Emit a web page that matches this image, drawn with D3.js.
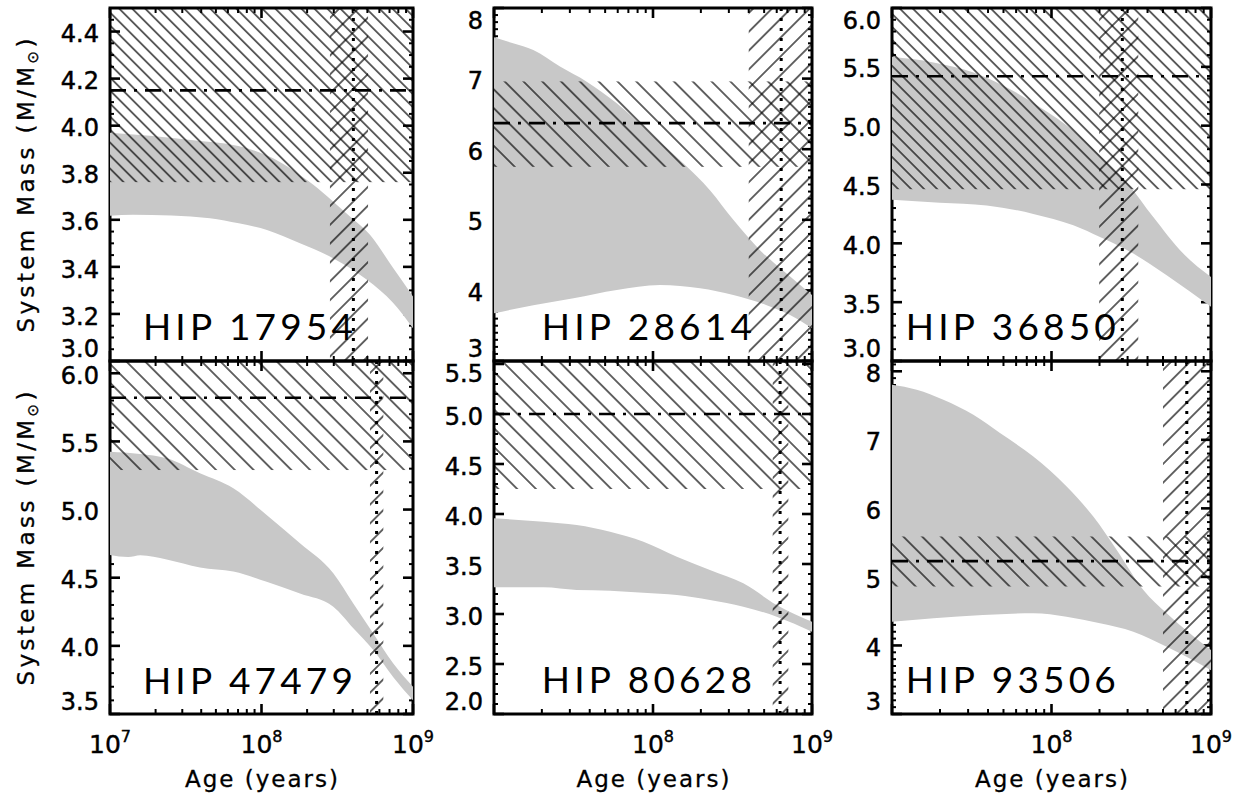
<!DOCTYPE html>
<html>
<head>
<meta charset="utf-8">
<script src="https://cdn.jsdelivr.net/npm/d3@7"></script>
<style>
    body { margin: 0; background: #fff; }
    text { font-family: "DejaVu Sans", sans-serif; fill: #000; }
</style>
</head>
<body>
<div id="chart"></div>
<script>

// ---- data ----
const stars = ["HIP  17954", "HIP  28614", "HIP  36850", "HIP  47479", "HIP  80628", "HIP  93506"];

// y-axis ranges, major tick step and minor intervals
const massRange = [[3.0, 4.5], [3, 8], [3, 6], [3.5, 6.09], [2.0, 5.53], [3, 8.15]];
const massStep = [0.2, 1, 0.5, 0.5, 0.5, 1];
const massMinor = [4, 10, 5, 5, 5, 10];
const massFormat = [".1f", "d", ".1f", ".1f", ".1f", "d"];

// x axis
const ageRange = [1e7, 1e9];
const ageLabels = [[7, 8, 9], [8, 9], [8, 9]];   // exponents labelled, per column

// hatched mass exclusion (\\\) and age exclusion (///)
const massBand = [[3.76, 4.5], [5.75, 6.96], [4.46, 6.0], [5.29, 6.09], [4.25, 5.53], [4.86, 5.59]];
const ageBand = [[2.83e8, 5.05e8], [4.0e8, 1e9], [1.99e8, 3.5e8], [5.2e8, 6.37e8], [5.66e8, 7.1e8], [5.0e8, 1e9]];
// dash-dot mass, dotted age
const massLine = [4.15, 6.37, 5.42, 5.82, 5.0, 5.23];
const ageLine = [4.04e8, 6.4e8, 2.78e8, 5.75e8, 6.3e8, 7.05e8];

// star label position (age, mass)
const labelPos = [[1.65e7, 3.09], [2.0e7, 3.3], [1.22e7, 3.18], [1.65e7, 3.65], [2.0e7, 2.21], [1.22e7, 3.31]];

// grey band edges: [log10 age, mass]
const bandUpper = [
    [[7.0,3.97],[7.264,3.957],[7.594,3.935],[7.812,3.918],[7.95,3.895],[8.08,3.86],[8.208,3.81],[8.34,3.75],[8.472,3.678],[8.584,3.614],[8.716,3.536],[8.868,3.396],[9.0,3.274]],
    [[7.0,7.585],[7.12,7.5],[7.247,7.405],[7.415,7.17],[7.583,6.956],[7.772,6.65],[7.98,6.225],[8.19,5.80],[8.358,5.42],[8.505,5.0],[8.673,4.57],[8.84,4.24],[9.0,3.935]],
    [[7.0,5.585],[7.26,5.537],[7.51,5.452],[7.72,5.325],[7.93,5.155],[8.137,4.958],[8.304,4.746],[8.471,4.52],[8.638,4.223],[8.826,3.913],[9.0,3.714]],
    [[7.0,5.424],[7.198,5.408],[7.374,5.376],[7.594,5.266],[7.814,5.156],[8.034,4.96],[8.254,4.752],[8.474,4.532],[8.606,4.31],[8.738,4.09],[8.87,3.87],[9.0,3.70]],
    [[7.0,3.957],[7.31,3.923],[7.52,3.89],[7.73,3.823],[7.94,3.723],[8.15,3.573],[8.358,3.44],[8.568,3.307],[8.778,3.09],[9.0,2.923]],
    [[7.0,7.803],[7.155,7.73],[7.322,7.584],[7.51,7.365],[7.677,7.098],[7.886,6.756],[8.095,6.318],[8.262,5.88],[8.409,5.394],[8.576,4.81],[8.722,4.47],[9.0,3.934]]
];
const bandLower = [
    [[7.0,3.617],[7.152,3.621],[7.66,3.607],[7.85,3.585],[8.036,3.557],[8.254,3.50],[8.472,3.437],[8.696,3.345],[8.868,3.247],[9.0,3.139]],
    [[7.0,3.675],[7.247,3.79],[7.5,3.888],[7.772,4.006],[8.044,4.076],[8.296,4.03],[8.505,3.935],[8.715,3.79],[8.862,3.65],[9.0,3.463]],
    [[7.0,4.37],[7.30,4.345],[7.594,4.322],[7.886,4.25],[8.137,4.153],[8.304,4.053],[8.513,3.913],[8.722,3.729],[9.0,3.46]],
    [[7.0,4.667],[7.12,4.652],[7.2,4.665],[7.374,4.634],[7.594,4.575],[7.814,4.545],[8.034,4.47],[8.254,4.384],[8.474,4.287],[8.606,4.13],[8.738,3.97],[8.87,3.77],[9.0,3.60]],
    [[7.0,3.267],[7.31,3.267],[7.52,3.24],[7.73,3.233],[7.94,3.213],[8.15,3.19],[8.358,3.14],[8.568,3.073],[8.778,2.973],[9.0,2.823]],
    [[7.0,4.347],[7.26,4.396],[7.57,4.445],[7.886,4.47],[8.094,4.42],[8.304,4.323],[8.513,4.2],[8.722,3.982],[9.0,3.64]]
];

// ---- layout ----
const W = 1234, H = 798;
const cols = [[110, 413], [494, 812], [892, 1211]];
const rows = [[8, 361], [361, 714]];
// hatch line spacing (perpendicular, px) for the mass band of each panel; age bands use the wide one
const massHatch = [9.2, 13.3, 9.2, 13.3, 13.3, 13.3];
const ageHatch = 13.3;

const svg = d3.select("#chart").append("svg")
    .attr("width", W)
    .attr("height", H);

const defs = svg.append("defs");

function hatch(id, ang, gap) {
    defs.append("pattern")
        .attr("id", id)
        .attr("patternUnits", "userSpaceOnUse")
        .attr("width", gap)
        .attr("height", gap)
        .attr("patternTransform", "rotate(" + ang + ")")
        .append("line")
        .attr("x1", gap / 2).attr("x2", gap / 2)
        .attr("y1", -1).attr("y2", gap + 1)
        .attr("stroke", "#000")
        .attr("stroke-width", 1.2);
    return "url(#" + id + ")";
}

class MassPanel {

    constructor(i) {
        this.i = i;
        this.col = i % 3;
        this.row = Math.floor(i / 3);
    }

    initVis() {
        let vis = this;
        let i = vis.i;
        let [x0, x1] = cols[vis.col];
        let [y0, y1] = rows[vis.row];
        vis.x = d3.scaleLog().domain(ageRange).range([x0, x1]);
        vis.y = d3.scaleLinear().domain(massRange[i]).range([y1, y0]);

        vis.g = svg.append("g");

        defs.append("clipPath").attr("id", "clip" + i)
            .append("rect")
            .attr("x", x0).attr("y", y0)
            .attr("width", x1 - x0).attr("height", y1 - y0);

        // frame + ticks first, the grey band paints over the inner half of the frame
        vis.drawAxes(x0, x1, y0, y1);

        let plot = vis.g.append("g").attr("clip-path", "url(#clip" + i + ")");

        // grey band: upper edge left->right, lower edge right->left
        let line = d3.line()
            .x(d => vis.x(Math.pow(10, d[0])))
            .y(d => vis.y(d[1]))
            .curve(d3.curveMonotoneX);
        plot.append("path")
            .attr("d", line(bandUpper[i]) + "L" + line(bandLower[i].slice().reverse()).slice(1) + "Z")
            .attr("fill", "#c8c8c8");

        // hatched mass band
        plot.append("rect")
            .attr("x", x0).attr("width", x1 - x0)
            .attr("y", vis.y(massBand[i][1]))
            .attr("height", vis.y(massBand[i][0]) - vis.y(massBand[i][1]))
            .attr("fill", hatch("mh" + i, -45, massHatch[i]));

        // hatched age band
        plot.append("rect")
            .attr("x", vis.x(ageBand[i][0]))
            .attr("width", vis.x(ageBand[i][1]) - vis.x(ageBand[i][0]))
            .attr("y", y0).attr("height", y1 - y0)
            .attr("fill", hatch("ah" + i, 45, ageHatch));

        // dash-dot mass line
        plot.append("line")
            .attr("x1", x0).attr("x2", x1)
            .attr("y1", vis.y(massLine[i])).attr("y2", vis.y(massLine[i]))
            .attr("stroke", "#000")
            .attr("stroke-width", 2.6)
            .attr("stroke-dasharray", "16,8,3,8");

        // dotted age line
        plot.append("line")
            .attr("x1", vis.x(ageLine[i])).attr("x2", vis.x(ageLine[i]))
            .attr("y1", y0).attr("y2", y1)
            .attr("stroke", "#000")
            .attr("stroke-width", 3)
            .attr("stroke-dasharray", "3,7");

        // star name
        vis.g.append("text")
            .attr("x", vis.x(labelPos[i][0]))
            .attr("y", vis.y(labelPos[i][1]))
            .attr("font-size", 37)
            .attr("textLength", 210)
            .attr("lengthAdjust", "spacing")
            .style("font-family", "Lato, 'DejaVu Sans', sans-serif")
            .style("font-weight", 400)
            .text(stars[i]);
    }

    drawAxes(x0, x1, y0, y1) {
        let vis = this;
        let i = vis.i;
        let ax = vis.g.append("g").attr("stroke", "#000");

        // x ticks (log): majors at decades, minors 2..9
        let xt = [];
        for (let e = 7; e < 9; e++) {
            for (let m = 1; m < 10; m++) xt.push([m * Math.pow(10, e), m === 1]);
        }
        xt.push([1e9, true]);
        xt.forEach(([v, major]) => {
            let px = vis.x(v);
            let len = major ? 10 : 5;
            ax.append("line").attr("x1", px).attr("x2", px)
                .attr("y1", y1).attr("y2", y1 - len)
                .attr("stroke-width", major ? 2.6 : 2);
            ax.append("line").attr("x1", px).attr("x2", px)
                .attr("y1", y0).attr("y2", y0 + len)
                .attr("stroke-width", major ? 2.6 : 2);
        });

        // y ticks (linear)
        let [lo, hi] = massRange[i];
        let step = massStep[i];
        let minorStep = step / massMinor[i];
        let start = Math.ceil(lo / minorStep - 1e-6);
        let fmt = d3.format(massFormat[i]);
        for (let k = start; k * minorStep <= hi + 1e-6; k++) {
            let v = k * minorStep;
            let major = Math.abs(v / step - Math.round(v / step)) < 1e-6;
            let py = vis.y(v);
            let len = major ? 10 : 4;
            ax.append("line").attr("x1", x0).attr("x2", x0 + len)
                .attr("y1", py).attr("y2", py)
                .attr("stroke-width", major ? 2.6 : 2);
            ax.append("line").attr("x1", x1).attr("x2", x1 - len)
                .attr("y1", py).attr("y2", py)
                .attr("stroke-width", major ? 2.6 : 2);
            if (major) {
                let ly = Math.max(y0 + 12, Math.min(y1 - 13, py + 2));
                vis.g.append("text")
                    .attr("x", x0 - 11)
                    .attr("y", ly)
                    .attr("dy", "0.36em")
                    .attr("text-anchor", "end")
                    .attr("font-size", 24)
                    .attr("stroke", "#000")
                    .attr("stroke-width", 0.5)
                    .text(fmt(v));
            }
        }

        // frame
        ax.append("rect")
            .attr("x", x0).attr("y", y0)
            .attr("width", x1 - x0).attr("height", y1 - y0)
            .attr("fill", "none")
            .attr("stroke-width", 3);

        // bottom row: decade labels and x title
        if (vis.row === 1) {
            ageLabels[vis.col].forEach(e => {
                let t = vis.g.append("text")
                    .attr("x", vis.x(Math.pow(10, e)))
                    .attr("y", 753)
                    .attr("text-anchor", "middle")
                    .attr("font-size", 25)
                    .attr("stroke", "#000")
                    .attr("stroke-width", 0.4);
                t.append("tspan").text("10");
                t.append("tspan").attr("font-size", 16).attr("dy", -11).text(e);
            });
            vis.g.append("text")
                .attr("x", (x0 + x1) / 2)
                .attr("y", 787)
                .attr("text-anchor", "middle")
                .attr("font-size", 23)
                .attr("textLength", 153)
                .attr("lengthAdjust", "spacing")
                .attr("stroke", "#000")
                .attr("stroke-width", 0.3)
                .text("Age (years)");
        }

        // left column: y title
        if (vis.col === 0) {
            let t = vis.g.append("text")
                .attr("transform", "translate(34," + ((y0 + y1) / 2 + 1) + ") rotate(-90)")
                .attr("text-anchor", "middle")
                .attr("font-size", 23)
                .attr("textLength", 294)
                .attr("lengthAdjust", "spacing")
                .attr("stroke", "#000")
                .attr("stroke-width", 0.3);
            t.append("tspan").text("System Mass (M/M");
            t.append("tspan").attr("font-size", 15).attr("dy", 4).text("\u2299");
            t.append("tspan").attr("dy", -4).text(")");
        }
    }
}

stars.forEach((s, i) => {
    let p = new MassPanel(i);
    p.initVis();
});

</script>
</body>
</html>
